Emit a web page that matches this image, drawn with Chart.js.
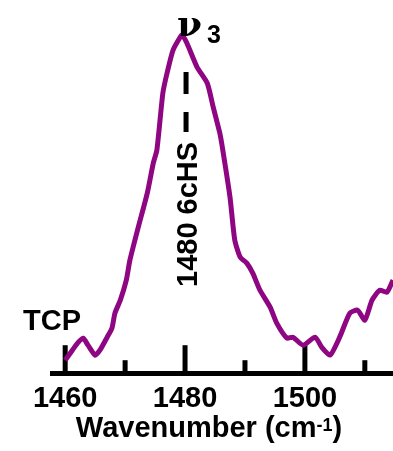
<!DOCTYPE html>
<html>
<head>
<meta charset="utf-8">
<script src="https://cdn.jsdelivr.net/npm/chart.js@4.4.0/dist/chart.umd.min.js"></script>
<style>
  html, body { margin: 0; padding: 0; background: #fff; }
  #wrap { width: 393px; height: 451px; }
</style>
</head>
<body>
<div id="wrap"><canvas id="spectrum"></canvas></div>
<script>
// Espectro alrededor de la banda v3
const wavenumber = [1460.0, 1461.2, 1462.2, 1463.0, 1463.8, 1465.0, 1465.8, 1467.0, 1467.8, 1468.3,
  1469.2, 1470.2, 1470.8, 1472.2, 1473.7, 1474.7, 1475.3, 1476.3, 1477.0, 1478.0,
  1479.2, 1479.5, 1480.3, 1482.0, 1483.7, 1484.7, 1485.8, 1486.3, 1487.5, 1488.3,
  1489.2, 1490.3, 1491.3, 1492.5, 1494.2, 1495.3, 1497.0, 1498.0, 1499.7, 1501.7,
  1502.8, 1504.2, 1505.8, 1507.5, 1508.8, 1510.0, 1511.2, 1512.5, 1513.7, 1514.7];
const intensity = [13, 23, 31, 35, 28, 18, 23, 36, 45, 60,
  73, 93, 113, 146, 180, 210, 223, 280, 300, 323,
  336, 338, 330, 306, 290, 266, 240, 223, 176, 133,
  116, 110, 100, 83, 66, 50, 35, 36, 28, 36,
  26, 18, 36, 60, 63, 53, 73, 83, 81, 93];
const tickValues = [1460, 1470, 1480, 1490, 1500, 1510];
const tickLabels = ['1460', '', '1480', '', '1500', ''];

const FONT = "'Liberation Sans', Arial, sans-serif";

// ticks hacia adentro (arriba del eje)
const innerTicks = {
  id: 'innerTicks',
  beforeDatasetsDraw(chart) {
    const ctx = chart.ctx;
    const x = chart.scales.x;
    const bottom = chart.chartArea.bottom;
    ctx.save();
    ctx.strokeStyle = '#000';
    ctx.lineWidth = 5;
    tickValues.forEach((v, i) => {
      const px = x.getPixelForValue(v);
      const len = tickLabels[i] ? 28 : 13;
      ctx.beginPath();
      ctx.moveTo(px, bottom);
      ctx.lineTo(px, bottom - len);
      ctx.stroke();
    });
    ctx.restore();
  }
};

// textos: v3, TCP, 1480 6cHS, titulo del eje
const notes = {
  id: 'notes',
  afterDraw(chart) {
    const ctx = chart.ctx;
    const x = chart.scales.x;
    const p1480 = x.getPixelForValue(1480);
    ctx.save();
    ctx.fillStyle = '#000';
    ctx.textBaseline = 'alphabetic';

    // v3
    ctx.textAlign = 'left';
    ctx.font = "bold 36px 'DejaVu Serif', serif";
    ctx.fillText('ν', p1480 - 8, 36);
    ctx.font = 'bold 25px ' + FONT;
    ctx.fillText('3', p1480 + 22, 43);

    // linea punteada
    ctx.strokeStyle = '#000';
    ctx.lineWidth = 5;
    ctx.setLineDash([22, 18]);
    ctx.beginPath();
    ctx.moveTo(p1480 + 1, 72);
    ctx.lineTo(p1480 + 1, 132);
    ctx.stroke();
    ctx.setLineDash([]);

    // 1480 6cHS vertical
    ctx.save();
    ctx.translate(p1480 + 12, 287);
    ctx.rotate(-Math.PI / 2);
    ctx.font = 'bold 29px ' + FONT;
    ctx.fillText('1480 6cHS', 0, 0);
    ctx.restore();

    // TCP
    ctx.font = 'bold 29px ' + FONT;
    ctx.fillText('TCP', 23, 330);

    // Wavenumber (cm-1)
    const main = 'Wavenumber (cm';
    const sup = '-1';
    ctx.font = 'bold 29px ' + FONT;
    const w1 = ctx.measureText(main).width;
    const w3 = ctx.measureText(')').width;
    ctx.font = 'bold 18px ' + FONT;
    const w2 = ctx.measureText(sup).width;
    let sx = 209 - (w1 + w2 + w3) / 2;
    ctx.font = 'bold 29px ' + FONT;
    ctx.fillText(main, sx, 437);
    ctx.font = 'bold 18px ' + FONT;
    ctx.fillText(sup, sx + w1, 431);
    ctx.font = 'bold 29px ' + FONT;
    ctx.fillText(')', sx + w1 + w2, 437);
    ctx.restore();
  }
};

const ctx = document.getElementById('spectrum').getContext('2d');
const myChart = new Chart(ctx, {
  type: 'line',
  data: {
    datasets: [{
      label: 'v3',
      data: wavenumber.map((w, i) => ({ x: w, y: intensity[i] })),
      borderColor: '#8e0682',
      borderWidth: 5,
      pointRadius: 0,
      tension: 0.2,
      fill: false
    }]
  },
  options: {
    responsive: true,
    maintainAspectRatio: false,
    animation: false,
    layout: { padding: { top: 10, left: 52, right: 0, bottom: 27 } },
    scales: {
      x: {
        type: 'linear',
        min: 1457.8,
        max: 1514.7,
        afterBuildTicks: (scale) => {
          scale.ticks = tickValues.map(v => ({ value: v }));
        },
        grid: { drawOnChartArea: false, drawTicks: false },
        border: { display: true, color: '#000', width: 5 },
        ticks: {
          autoSkip: false,
          maxRotation: 0,
          padding: 8,
          color: '#000',
          font: { family: FONT, size: 29, weight: 'bold' },
          callback: (value) => {
            const i = tickValues.indexOf(value);
            return i >= 0 ? tickLabels[i] : '';
          }
        }
      },
      y: {
        display: false,
        min: 0,
        max: 363
      }
    },
    plugins: {
      legend: { display: false },
      tooltip: { enabled: false }
    }
  },
  plugins: [innerTicks, notes]
});
</script>
</body>
</html>
